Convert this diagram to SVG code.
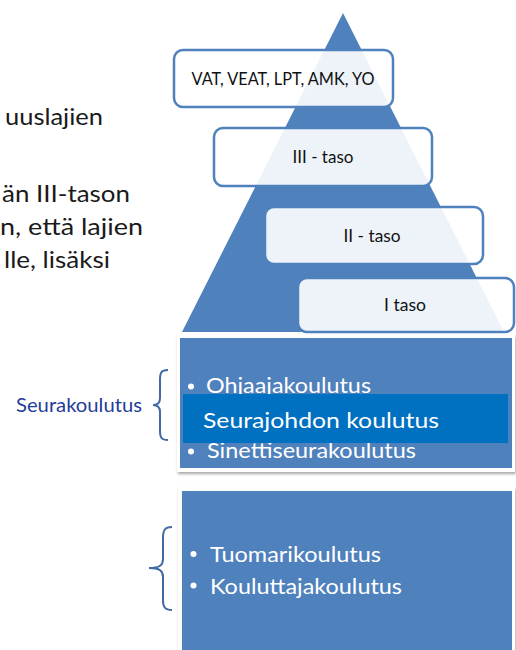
<svg xmlns="http://www.w3.org/2000/svg" width="516" height="650" viewBox="0 0 516 650">
<style>
.lt{font-family:Lato,"Open Sans","Liberation Sans",sans-serif;font-size:24px;fill:#1a1a1a}
.bx{fill:#ffffff;fill-opacity:0.9;stroke:#4f81bd;stroke-width:2.5}
.bt{font-family:Lato,"Open Sans","Liberation Sans",sans-serif;font-size:18px;fill:#111;text-anchor:middle}
.wt{font-family:Lato,"Open Sans","Liberation Sans",sans-serif;font-size:22px;fill:#fff}
.br{fill:none;stroke:#4169a5;stroke-width:2}
</style>
<defs>
<filter id="sh" x="-5%" y="-5%" width="110%" height="115%">
<feDropShadow dx="1" dy="2" stdDeviation="1.5" flood-color="#000" flood-opacity="0.35"/>
</filter>
</defs>
<g id="lefttext">
<text class="lt" x="5" y="125" textLength="98" lengthAdjust="spacingAndGlyphs">uuslajien</text>
<text class="lt" x="2" y="202" textLength="128" lengthAdjust="spacingAndGlyphs">än III-tason</text>
<text class="lt" x="0" y="235" textLength="143" lengthAdjust="spacingAndGlyphs">n, että lajien</text>
<text class="lt" x="4" y="268" textLength="106" lengthAdjust="spacingAndGlyphs">lle, lisäksi</text>
</g>
<g id="pyramid">
<polygon points="343,13 182,332 504,332" fill="#4f81bd"/>
</g>
<g id="level-top">
<rect class="bx" x="174" y="50" width="219" height="57" rx="9"/>
<text class="bt" x="283" y="85" textLength="183" lengthAdjust="spacingAndGlyphs">VAT, VEAT, LPT, AMK, YO</text>
</g>
<g id="level-3">
<rect class="bx" x="214" y="128" width="218" height="58" rx="9"/>
<text class="bt" x="323" y="163" textLength="61" lengthAdjust="spacingAndGlyphs">III - taso</text>
</g>
<g id="level-2">
<rect class="bx" x="265" y="207" width="218" height="57" rx="9"/>
<text class="bt" x="372" y="242" textLength="57" lengthAdjust="spacingAndGlyphs">II - taso</text>
</g>
<g id="level-1">
<rect class="bx" x="298" y="278" width="216" height="54" rx="9"/>
<text class="bt" x="405" y="311" textLength="42" lengthAdjust="spacingAndGlyphs">I taso</text>
</g>
<g id="seura-box">
<rect x="177" y="335" width="338" height="137" fill="#fff" filter="url(#sh)"/>
<rect x="180" y="338" width="332" height="130" fill="#4f81bd"/>
<circle cx="191" cy="386.5" r="3" fill="#fff"/>
<text class="wt" x="206" y="393" textLength="165" lengthAdjust="spacingAndGlyphs">Ohjaajakoulutus</text>
<circle cx="191" cy="451.5" r="3" fill="#fff"/>
<text class="wt" x="207" y="458" textLength="209" lengthAdjust="spacingAndGlyphs">Sinettiseurakoulutus</text>
<rect x="183" y="394" width="325" height="49" fill="#0070c0"/>
<text class="wt" x="203" y="428" font-size="25" textLength="236" lengthAdjust="spacingAndGlyphs">Seurajohdon koulutus</text>
</g>
<g id="seura-label">
<text x="16" y="412" font-family="Lato,'Open Sans','Liberation Sans',sans-serif" font-size="19" fill="#1f3d96" textLength="126" lengthAdjust="spacingAndGlyphs">Seurakoulutus</text>
<path class="br" d="M168,370 C161,370 160,373 160,380 L160,398 C160,403 158,405 153,405 C158,405 160,407 160,412 L160,431 C160,437 161,440 168,440"/>
</g>
<g id="other-box">
<rect x="178" y="487" width="337" height="170" fill="#fff" filter="url(#sh)"/>
<rect x="182" y="491" width="330" height="165" fill="#4f81bd"/>
<circle cx="193.5" cy="554" r="3" fill="#fff"/>
<text class="wt" x="210" y="562" textLength="171" lengthAdjust="spacingAndGlyphs">Tuomarikoulutus</text>
<circle cx="193.5" cy="585.5" r="3" fill="#fff"/>
<text class="wt" x="210" y="594" textLength="192" lengthAdjust="spacingAndGlyphs">Kouluttajakoulutus</text>
</g>
<g id="connectors">
<path class="br" d="M172,527 C165,527 163,530 163,538 L163,559 C163,565 160,568 149,568 C160,568 163,571 163,577 L163,600 C163,607 165,610 172,610"/>
</g>
</svg>
